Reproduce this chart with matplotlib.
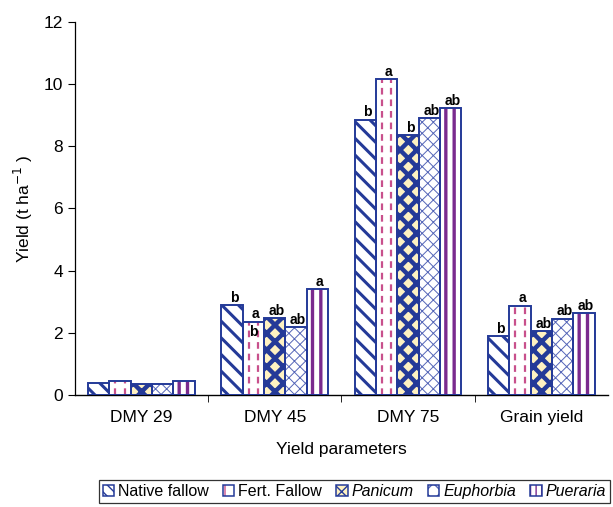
import numpy as np
import matplotlib
matplotlib.use("Agg")
import matplotlib.pyplot as plt
from matplotlib.patches import Patch
from matplotlib.legend_handler import HandlerTuple

plt.rcParams['font.family'] = ['Liberation Sans', 'DejaVu Sans']

# data
categories = ["DMY 29", "DMY 45", "DMY 75", "Grain yield"]
series = ["Native fallow", "Fert. Fallow", "Panicum", "Euphorbia", "Pueraria"]
native = [0.37, 2.88, 8.85, 1.88]
fert = [0.45, 2.36, 10.15, 2.86]
panicum = [0.34, 2.47, 8.35, 2.05]
euphorbia = [0.34, 2.17, 8.90, 2.45]
pueraria = [0.45, 3.40, 9.22, 2.62]
values = [native, fert, panicum, euphorbia, pueraria]
letters = [
    ["", "b", "b", "b"],
    ["", "a", "a", "a"],
    ["", "ab", "b", "ab"],
    ["", "ab", "ab", "ab"],
    ["", "a", "ab", "ab"],
]
yticks = [0, 2, 4, 6, 8, 10, 12]

navy = "#243A98"
pink = "#C8508C"
purple = "#7A2A8E"
yellow = "#FFF2C2"
lite = "#5566B8"

# face, hatch, hatch colour, hatch lw
styles = [
    ("white", "\\\\", navy, 2.2),
    ("white", None, None, 1.0),
    (yellow, "xx", navy, 3.2),
    ("white", "xxx", lite, 0.7),
    ("white", "||", purple, 2.4),
]

fig = plt.figure(figsize=(6.13, 5.07), dpi=100)
ax = fig.add_axes([0.122, 0.221, 0.870, 0.736])

x = np.arange(len(categories))
w = 0.16
offs = (np.arange(5) - 2) * w

for i, vals in enumerate(values):
    face, hatch, hc, hlw = styles[i]
    xs = x + offs[i]
    with plt.rc_context({'hatch.linewidth': hlw}):
        ax.bar(xs, vals, w, color=face, edgecolor=hc if hc else face,
               linewidth=0, hatch=hatch, zorder=2)
    if i == 1:
        # dashed pink lines inside fert. fallow bars
        for xx, v in zip(xs, vals):
            ax.vlines([xx - 0.22 * w, xx + 0.22 * w], 0, v, colors=pink,
                      linestyles=(0, (3, 2.2)), linewidth=1.6, zorder=3)
    ax.bar(xs, vals, w, fill=False, edgecolor=navy, linewidth=1.4, zorder=4)
    for xx, v, t in zip(xs, vals, letters[i]):
        if t:
            ax.text(xx + 0.015, v + 0.02, t, ha='center', va='bottom',
                    fontsize=10, fontweight='bold', zorder=5)

# extra letter inside fert. fallow bar at DMY 45
ax.text(x[1] + offs[1], fert[1] - 0.12, "b", ha='center', va='top',
        fontsize=10, fontweight='bold', zorder=5)

ax.set_xlim(-0.5, 3.5)
ax.set_ylim(0, 12)
ax.set_yticks(yticks)
ax.set_yticklabels([str(t) for t in yticks], fontsize=12.5)
ax.set_xticks(x)
ax.set_xticklabels(categories, fontsize=12.5)
ax.set_xticks([0.5, 1.5, 2.5], minor=True)
ax.tick_params(axis='x', which='major', length=0, pad=11)
ax.tick_params(axis='x', which='minor', length=5, direction='out')
ax.tick_params(axis='y', length=5, direction='out')
for s in ['top', 'right']:
    ax.spines[s].set_visible(False)
ax.spines['left'].set_linewidth(0.9)
ax.spines['bottom'].set_linewidth(1.0)

ax.set_ylabel("Yield (t ha$^{-1}$ )", fontsize=12.5, labelpad=6)
ax.set_xlabel("Yield parameters", fontsize=12.5, labelpad=12)

# legend handles: hatched fill + navy outline, overlaid
leg_hatch = ["\\\\\\", "|", "xx", "xx", "|||"]
leg_col = [navy, pink, navy, lite, purple]
handles = []
for i, name in enumerate(series):
    face = styles[i][0]
    with plt.rc_context({'hatch.linewidth': 1.2}):
        inner = Patch(facecolor=face, edgecolor=leg_col[i], hatch=leg_hatch[i],
                      linewidth=0)
    outer = Patch(fill=False, edgecolor=navy, linewidth=1.1)
    handles.append((inner, outer))
leg = fig.legend(handles, series, loc='lower right', bbox_to_anchor=(1.008, -0.008),
                 ncol=5, frameon=True, fancybox=False, edgecolor='black',
                 fontsize=11.5, handlelength=0.7, handleheight=0.7,
                 handletextpad=0.25, columnspacing=0.9, borderpad=0.25,
                 handler_map={tuple: HandlerTuple(ndivide=1, pad=0)})
leg.get_frame().set_linewidth(0.9)
for t in leg.get_texts()[2:]:
    t.set_style('italic')

fig.savefig("out.png", dpi=100)
